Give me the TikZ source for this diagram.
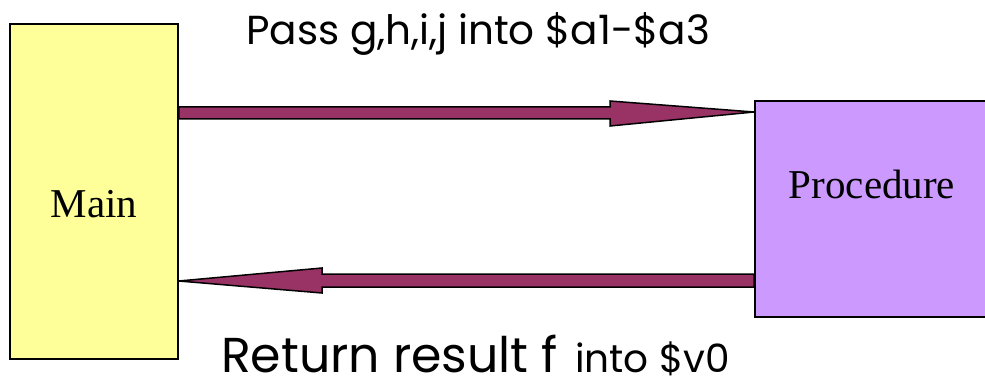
\documentclass[tikz,border=0pt]{standalone}
\usepackage{fontspec}
\setmainfont{Liberation Serif}
\newfontfamily\comicfont{Poppins}
\definecolor{mainyellow}{HTML}{FFFF99}
\definecolor{proclilac}{HTML}{CC99FF}
\definecolor{arrowplum}{HTML}{993366}
\tikzset{
  blockbox/.style={draw=black, line width=1.5pt, inner sep=0pt},
  boxtext/.style={inner sep=0pt, anchor=base, font=\fontsize{41}{41}\selectfont},
  blockarrow/.style={draw=black, fill=arrowplum, line width=1.5pt, line join=miter},
  labeltext/.style={inner sep=0pt, anchor=base west, text depth=0pt}
}
\begin{document}
\begin{tikzpicture}[x=1pt,y=-1pt]
\useasboundingbox (0,0) rectangle (985,385);
\node[blockbox, fill=mainyellow, minimum width=168pt, minimum height=335pt] (main) at (94,191.5) {};
\node[boxtext] (maintext) at (94,217) {Main};
\node[blockbox, fill=proclilac, minimum width=234pt, minimum height=216pt, anchor=west] (proc) at (754,209) {};
\node[boxtext] (proctext) at (872,198) {Procedure};
% top arrow
\coordinate (ta) at (610,107);
\coordinate (tb) at (610,119);
\coordinate (tc) at (610,101);
\coordinate (td) at (610,126);
\coordinate (tt) at (754,112);
\draw[blockarrow] (main.east |- ta) -- (ta) -- (tc) -- (proc.west |- tt) -- (td) -- (tb) -- (main.east |- tb) -- cycle;
% bottom arrow
\coordinate (ba) at (322,274);
\coordinate (bb) at (322,287);
\coordinate (bc) at (322,268);
\coordinate (bd) at (322,293);
\coordinate (bt) at (178,281);
\draw[blockarrow] (proc.west |- ba) -- (ba) -- (bc) -- (main.east |- bt) -- (bd) -- (bb) -- (proc.west |- bb) -- cycle;
% labels
\node[labeltext, font=\comicfont\fontsize{40.5}{40.5}\selectfont] (toplabel) at (246,45) {Pass g,h,i,j into \$a1-\$a3};
\node[labeltext, font=\comicfont\fontsize{49}{49}\selectfont] (botlabel) at (221,372) {Return result f};
\node[labeltext, font=\comicfont\fontsize{39}{39}\selectfont] (botlabel2) at (575,372) {into \$v0};
\end{tikzpicture}
\end{document}
